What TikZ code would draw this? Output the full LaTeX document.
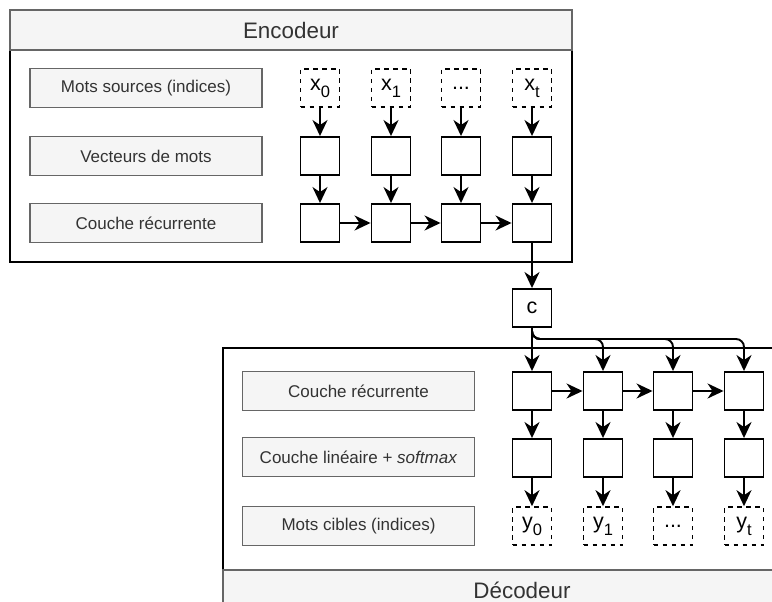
\documentclass[tikz,border=0pt]{standalone}
\usepackage{fontspec}
\setmainfont{Liberation Sans}
\usetikzlibrary{arrows.meta,calc}
\definecolor{panel}{HTML}{F5F5F5}
\definecolor{edge}{HTML}{666666}
\definecolor{ink}{HTML}{333333}
% token with a lowered index
\newcommand{\tokidx}[2]{#1\raisebox{-0.32em}{\fontsize{16.5}{16.5}\selectfont #2}}

\begin{document}
\begin{tikzpicture}[x=1pt,y=-1pt,
  cell/.style={draw, line width=1.9pt, minimum width=39pt, minimum height=38pt, inner sep=0pt, fill=white},
  token/.style={cell, line width=1.6pt, dash pattern=on 4.5pt off 4.5pt, font=\fontsize{21.5}{21.5}\selectfont},
  tag/.style={draw=edge, fill=panel, line width=1.3pt, minimum width=232pt, minimum height=39pt,
              text=ink, font=\fontsize{17}{17}\selectfont, inner sep=0pt},
  title/.style={text=ink, font=\fontsize{22.4}{22.4}\selectfont},
  flow/.style={line width=1.9pt, -{Stealth[length=16pt,width=15pt,inset=5pt]}},
]
\useasboundingbox (0,0) rectangle (772,602);
\clip (0,0) rectangle (772,602);

% ---------- encoder frame ----------
\draw[line width=1.9pt, fill=white] (10,50) rectangle (572,262);
\draw[draw=edge, fill=panel, line width=1.9pt] (10,10) rectangle (572,50);
\node[title] (enctitle) at (291,30) {Encodeur};

% ---------- decoder frame ----------
\draw[line width=1.9pt, fill=white] (223,348) rectangle (821,570);
\draw[draw=edge, fill=panel, line width=1.9pt] (223,570) rectangle (821,610);
\node[title] (dectitle) at (522,590) {Décodeur};

% ---------- encoder row labels ----------
\node[tag] (lsrc) at (146,88)  {Mots sources (indices)};
\node[tag] (lvec) at (146,156) {Vecteurs de mots};
\node[tag] (lrec) at (146,223) {Couche récurrente};

% ---------- encoder cells ----------
\foreach \i/\x/\t in {0/320/{\tokidx{x}{0}}, 1/391/{\tokidx{x}{1}}, 2/461/{...}, 3/532/{\tokidx{x}{t}}} {
  \node[token] (x\i) at (\x,88) {\t};
  \node[cell]  (v\i) at (\x,156) {};
  \node[cell]  (r\i) at (\x,223) {};
  \draw[flow] (x\i) -- (v\i);
  \draw[flow] (v\i) -- (r\i);
}
\draw[flow] (r0) -- (r1);
\draw[flow] (r1) -- (r2);
\draw[flow] (r2) -- (r3);

% ---------- context vector ----------
\node[cell, font=\fontsize{21.5}{21.5}\selectfont] (c) at (532,308) {c};
\draw[flow] (r3) -- (c);

% ---------- decoder row labels ----------
\node[tag] (drec) at (358.5,391) {Couche récurrente};
\node[tag] (dlin) at (358.5,457) {Couche linéaire + \textit{softmax}};
\node[tag] (dtgt) at (358.5,526) {Mots cibles (indices)};

% ---------- decoder cells ----------
\foreach \i/\x/\t in {0/532/{\tokidx{y}{0}}, 1/603/{\tokidx{y}{1}}, 2/673/{...}, 3/744/{\tokidx{y}{t}}} {
  \node[cell]  (h\i) at (\x,391) {};
  \node[cell]  (l\i) at (\x,458) {};
  \node[token] (y\i) at (\x,526) {\t};
  \draw[flow] (h\i) -- (l\i);
  \draw[flow] (l\i) -- (y\i);
}
\draw[flow] (h0) -- (h1);
\draw[flow] (h1) -- (h2);
\draw[flow] (h2) -- (h3);

% ---------- context fan-out ----------
\coordinate (bus) at (532,339);
\draw[flow] (c) -- (h0);
\foreach \i in {1,2,3} {
  \draw[flow, rounded corners=8pt] (c.south) |- (h\i.north |- bus) -- (h\i.north);
}
\end{tikzpicture}
\end{document}
